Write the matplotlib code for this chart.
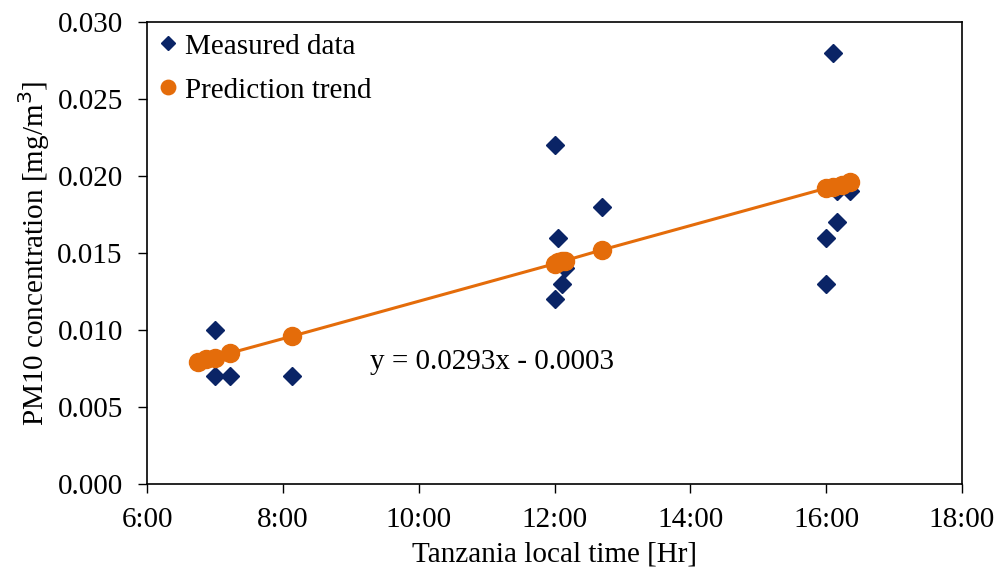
import matplotlib.pyplot as plt
from matplotlib.ticker import FixedLocator, FuncFormatter

# measured PM10 (time of day, mg/m3)
meas_time = ["7:00", "7:00", "7:13", "8:08",
             "12:00", "12:00", "12:03", "12:07", "12:09", "12:42",
             "16:00", "16:00", "16:06", "16:10", "16:10", "16:21"]
meas_pm10 = [0.010, 0.007, 0.007, 0.007,
             0.022, 0.012, 0.016, 0.013, 0.014, 0.018,
             0.016, 0.013, 0.028, 0.017, 0.019, 0.019]

# prediction trend points
pred_time = ["6:45", "6:52", "7:00", "7:13", "8:08",
             "12:00", "12:03", "12:07", "12:09", "12:42",
             "16:00", "16:06", "16:14", "16:21"]
pred_pm10 = [0.0079, 0.0081, 0.0082, 0.0085, 0.0096,
             0.0143, 0.0144, 0.0145, 0.0145, 0.0152,
             0.0192, 0.0193, 0.0194, 0.0196]

x_ticks = ["6:00", "8:00", "10:00", "12:00", "14:00", "16:00", "18:00"]
y_ticks = [0.000, 0.005, 0.010, 0.015, 0.020, 0.025, 0.030]
equation = "y = 0.0293x - 0.0003"


def to_hours(s):
    h, m = s.split(":")
    return int(h) + int(m) / 60.0


navy = "#0a2466"
orange = "#e46c0a"

plt.rcParams["font.family"] = ["Liberation Serif", "DejaVu Serif"]
plt.rcParams["font.size"] = 21

fig = plt.figure(figsize=(10.01, 5.73), dpi=100)
ax = fig.add_axes([0.147, 0.155, 0.814, 0.807])

mx = [to_hours(t) for t in meas_time]
px = [to_hours(t) for t in pred_time]

ax.plot(px, pred_pm10, color=orange, lw=2.2, zorder=2)
ax.plot(mx, meas_pm10, ls="none", marker="D", ms=9, color=navy,
        label="Measured data", zorder=3)
ax.plot(px, pred_pm10, ls="none", marker="o", ms=13, color=orange,
        label="Prediction trend", zorder=4)

ax.set_xlim(to_hours(x_ticks[0]), to_hours(x_ticks[-1]))
ax.set_ylim(y_ticks[0], y_ticks[-1])
ax.xaxis.set_major_locator(FixedLocator([to_hours(t) for t in x_ticks]))
ax.xaxis.set_major_formatter(FuncFormatter(lambda v, p: "%d:00" % round(v)))
ax.yaxis.set_major_locator(FixedLocator(y_ticks))
ax.yaxis.set_major_formatter(FuncFormatter(lambda v, p: "%.3f" % v))
ax.tick_params(direction="out", length=6.5, width=1)
ax.tick_params(axis="y", pad=11)
ax.tick_params(axis="x", pad=10)
for sp in ax.spines.values():
    sp.set_linewidth(1.2)

ax.set_xlabel("Tanzania local time [Hr]", labelpad=6)
ax.set_ylabel("PM10 concentration [mg/m$^3$]", labelpad=4)

ax.text(9.28, 0.0079, equation, ha="left", va="center")

leg = ax.legend(loc="upper left", bbox_to_anchor=(0.0, 0.991), frameon=False,
                handletextpad=0.15, handlelength=0.9, borderaxespad=0.1,
                labelspacing=0.6, markerscale=0.8, borderpad=0.15)

fig.savefig("out.png", dpi=100)
